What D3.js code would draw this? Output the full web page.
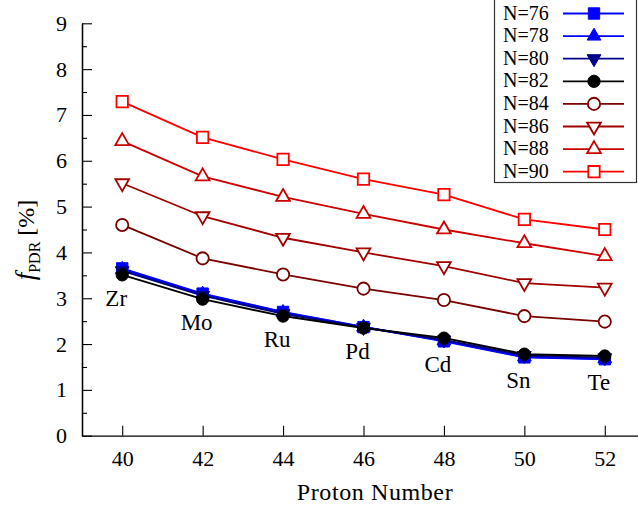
<!DOCTYPE html>
<html>
<head>
<meta charset="utf-8">
<script src="https://cdn.jsdelivr.net/npm/d3@7"></script>
<style>
  html, body { margin: 0; padding: 0; background: #fff; }
  svg { display: block; font-family: "Liberation Serif", "DejaVu Serif", serif; }
</style>
</head>
<body>
<svg id="chart" width="638" height="511"></svg>
<script>
// Proton numbers (Zr ... Te) and element symbols
const protonNumbers = [40, 42, 44, 46, 48, 50, 52];
const elements = ["Zr", "Mo", "Ru", "Pd", "Cd", "Sn", "Te"];

// PDR fraction f_PDR [%] for each neutron number
const n76 = [3.65, 3.10, 2.70, 2.37, 2.06, 1.71, 1.67];
const n78 = [3.63, 3.09, 2.69, 2.37, 2.07, 1.72, 1.68];
const n80 = [3.60, 3.06, 2.66, 2.36, 2.09, 1.75, 1.70];
const n82 = [3.51, 2.98, 2.61, 2.35, 2.13, 1.78, 1.74];
const n84 = [4.60, 3.87, 3.52, 3.21, 2.96, 2.61, 2.49];
const n86 = [5.51, 4.79, 4.32, 4.00, 3.70, 3.33, 3.23];
const n88 = [6.43, 5.66, 5.21, 4.84, 4.50, 4.20, 3.92];
const n90 = [7.29, 6.51, 6.03, 5.60, 5.26, 4.72, 4.50];

const seriesNames = ["N=76", "N=78", "N=80", "N=82", "N=84", "N=86", "N=88", "N=90"];
const seriesValues = [n76, n78, n80, n82, n84, n86, n88, n90];

const yTicks = [0, 1, 2, 3, 4, 5, 6, 7, 8, 9];
const yMinorTicks = [0.5, 1.5, 2.5, 3.5, 4.5, 5.5, 6.5, 7.5, 8.5];
const xTicks = [40, 42, 44, 46, 48, 50, 52];

// Marker/color styling per series
const styles = [
  { color: "#0000ff", shape: "square", filled: true },
  { color: "#0000ff", shape: "up", filled: true },
  { color: "#00008b", shape: "down", filled: true },
  { color: "#000000", shape: "circle", filled: true },
  { color: "#7a0000", shape: "circle", filled: false },
  { color: "#a00000", shape: "down", filled: false },
  { color: "#cc0000", shape: "up", filled: false },
  { color: "#ff0000", shape: "square", filled: false }
];

const svg = d3.select("#chart");
const plotLeft = 82, plotBottom = 435.7, plotTop = 23.3;

const x = d3.scaleLinear().domain([39, 53]).range([plotLeft, 645]);
const y = d3.scaleLinear().domain([0, 9]).range([plotBottom, plotTop]);

// Axes: ticks point inward
const yAxis = d3.axisLeft(y).tickValues(yTicks).tickSize(-10).tickSizeOuter(0).tickPadding(15).tickFormat(d3.format("d"));
const yMinor = d3.axisLeft(y).tickValues(yMinorTicks).tickSize(-5).tickSizeOuter(0).tickFormat("");
const xAxis = d3.axisBottom(x).tickValues(xTicks).tickSize(-10).tickSizeOuter(0).tickPadding(15).tickFormat(d3.format("d"));

function styleAxis(g) {
  g.selectAll("path").attr("stroke", "#000").attr("stroke-width", 1.3);
  g.selectAll("line").attr("stroke", "#000").attr("stroke-width", 1.1);
  g.selectAll("text").attr("fill", "#000").style("font-size", "22px")
    .style("font-family", "'Liberation Serif', serif");
}

svg.append("g").attr("transform", `translate(${plotLeft},0)`).call(yMinor).call(styleAxis);
svg.append("g").attr("transform", `translate(${plotLeft},0)`).call(yAxis).call(styleAxis);
svg.append("g").attr("transform", `translate(0,${plotBottom})`).call(xAxis).call(styleAxis);

// Axis titles
svg.append("text")
  .attr("x", 375).attr("y", 500)
  .attr("text-anchor", "middle")
  .style("font-size", "24px")
  .style("letter-spacing", "0.6px")
  .text("Proton Number");

const yTitle = svg.append("text")
  .attr("transform", "translate(34,240) rotate(-90)")
  .attr("text-anchor", "middle")
  .style("font-size", "24px");
yTitle.append("tspan").style("font-style", "italic").style("font-size", "27px").text("f");
yTitle.append("tspan").attr("dy", 6).style("font-size", "16px").text("PDR");
yTitle.append("tspan").attr("dy", -6).text(" [%]");

// Marker generator
function symbolFor(shape) {
  if (shape === "square") return d3.symbol().type(d3.symbolSquare).size(130)();
  if (shape === "circle") return d3.symbol().type(d3.symbolCircle).size(118)();
  return d3.symbol().type(d3.symbolTriangle).size(82)();
}
function drawMarker(g, cx, cy, st) {
  const rot = st.shape === "down" ? " rotate(180)" : "";
  g.append("path")
    .attr("d", symbolFor(st.shape))
    .attr("transform", `translate(${cx},${cy})${rot}`)
    .attr("fill", st.filled ? st.color : "#fff")
    .attr("stroke", st.color)
    .attr("stroke-width", st.filled ? 1 : 1.8);
}

const line = d3.line().x((d, i) => x(protonNumbers[i])).y(d => y(d));

seriesValues.forEach((vals, k) => {
  const st = styles[k];
  const g = svg.append("g");
  g.append("path")
    .datum(vals)
    .attr("d", line)
    .attr("fill", "none")
    .attr("stroke", st.color)
    .attr("stroke-width", st.filled ? 2 : 1.8);
  vals.forEach((v, i) => drawMarker(g, x(protonNumbers[i]), y(v), st));
});

// Element labels under the lowest curve
protonNumbers.forEach((z, i) => {
  const low = d3.min(seriesValues, s => s[i]);
  svg.append("text")
    .attr("x", x(z) - 6)
    .attr("y", y(low) + 31)
    .attr("text-anchor", "middle")
    .style("font-size", "23px")
    .text(elements[i]);
});

// Legend
const lg = svg.append("g");
lg.append("rect")
  .attr("x", 494.5).attr("y", -1).attr("width", 142).attr("height", 183.5)
  .attr("fill", "#fff").attr("stroke", "#333").attr("stroke-width", 1.2);
seriesNames.forEach((name, k) => {
  const cy = 13.5 + k * 22.6;
  const st = styles[k];
  lg.append("text").attr("x", 503).attr("y", cy + 6).style("font-size", "20px").text(name);
  lg.append("line").attr("x1", 563).attr("x2", 624).attr("y1", cy).attr("y2", cy)
    .attr("stroke", st.color).attr("stroke-width", 1.8);
  drawMarker(lg, 594, cy, st);
});
</script>
</body>
</html>
